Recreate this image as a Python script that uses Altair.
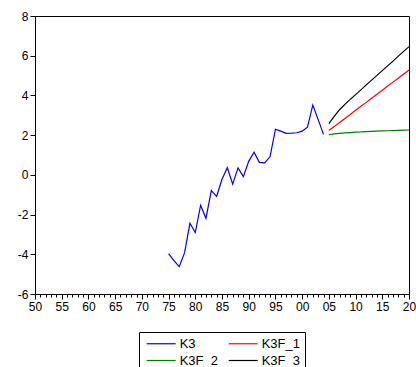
import altair as alt
import pandas as pd

# ---- data ----
years_k3 = list(range(1975, 2005))
k3 = [-3.97, -4.32, -4.62, -3.92, -2.44, -2.91, -1.53, -2.19, -0.79, -1.08,
      -0.22, 0.36, -0.47, 0.35, -0.09, 0.68, 1.14, 0.63, 0.60, 0.92,
      2.30, 2.20, 2.09, 2.10, 2.12, 2.20, 2.40, 3.52, 2.78, 2.04]

years_f = list(range(2005, 2021))
k3f_1 = [2.23, 2.43, 2.64, 2.84, 3.04, 3.25, 3.45, 3.65, 3.86, 4.06,
         4.26, 4.47, 4.67, 4.87, 5.08, 5.28]
k3f_2 = [2.02, 2.06, 2.09, 2.11, 2.13, 2.15, 2.16, 2.18, 2.19, 2.20,
         2.21, 2.22, 2.23, 2.24, 2.25, 2.26]
k3f_3 = [2.58, 2.95, 3.28, 3.55, 3.80, 4.04, 4.28, 4.53, 4.77, 5.01,
         5.25, 5.49, 5.73, 5.98, 6.22, 6.46]

# legend fills column by column: col 1 = K3, K3F_2 ; col 2 = K3F_1, K3F_3
series_names = ["K3", "K3F_2", "K3F_1", "K3F_3"]
series_colors = ["#0000FF", "#008000", "#FF0000", "#000000"]

major_years = list(range(1950, 2021, 5))
minor_years = list(range(1950, 2021))
y_ticks = [-6, -4, -2, 0, 2, 4, 6, 8]

rows = []
for yr, v in zip(years_k3, k3):
    rows.append({"year": yr, "value": v, "series": "K3"})
for name, vals in (("K3F_1", k3f_1), ("K3F_2", k3f_2), ("K3F_3", k3f_3)):
    for yr, v in zip(years_f, vals):
        rows.append({"year": yr, "value": v, "series": name})
df = pd.DataFrame(rows)
minor_df = pd.DataFrame({"year": minor_years})

FONT = "Liberation Sans"
label_expr = "(datum.value % 100) < 10 ? '0' + (datum.value % 100) : '' + (datum.value % 100)"

x_scale = alt.Scale(domain=[1950, 2020], nice=False, zero=False)

lines = alt.Chart(df).mark_line(strokeWidth=1.2).encode(
    x=alt.X("year:Q", scale=x_scale, title=None,
            axis=alt.Axis(values=major_years, labelExpr=label_expr, tickSize=5,
                          orient="bottom", grid=False, labelPadding=2,
                          labelFlush=False, labelOverlap=False,
                          domainColor="black", tickColor="black",
                          labelColor="black", labelFont=FONT, labelFontSize=12)),
    y=alt.Y("value:Q", scale=alt.Scale(domain=[-6, 8], nice=False), title=None,
            axis=alt.Axis(values=y_ticks, labelExpr="'' + datum.value", tickSize=5,
                          grid=False, labelPadding=2, labelFlush=False,
                          labelOverlap=False, domainColor="black",
                          tickColor="black", labelColor="black",
                          labelFont=FONT, labelFontSize=12)),
    color=alt.Color("series:N",
                    scale=alt.Scale(domain=series_names, range=series_colors),
                    legend=alt.Legend(orient="none", legendX=104, legendY=316,
                                      columns=2, title=None,
                                      symbolType="M-2.23,0L2.23,0",
                                      symbolSize=169, symbolStrokeWidth=1.2,
                                      symbolOffset=10.7,
                                      labelFont=FONT, labelFontSize=13,
                                      labelColor="black", labelOffset=11,
                                      strokeColor="black", padding=4,
                                      rowPadding=2, columnPadding=6,
                                      cornerRadius=0, fillColor="white")),
    detail="series:N",
)

minor = alt.Chart(minor_df).mark_tick(opacity=0).encode(
    x=alt.X("year:Q", scale=x_scale, title=None,
            axis=alt.Axis(values=minor_years, labels=False, tickSize=3,
                          orient="bottom", domain=False, grid=False,
                          tickColor="black")),
)

chart = alt.layer(lines, minor).resolve_axis(x="independent").properties(
    width=374, height=278,
    autosize=alt.AutoSizeParams(type="none"),
    padding={"left": 35, "top": 16, "right": 7, "bottom": 73},
    background="white",
).configure_view(stroke="black", strokeWidth=1)

chart.save("out.html", embed_options={"renderer": "svg", "actions": False})
